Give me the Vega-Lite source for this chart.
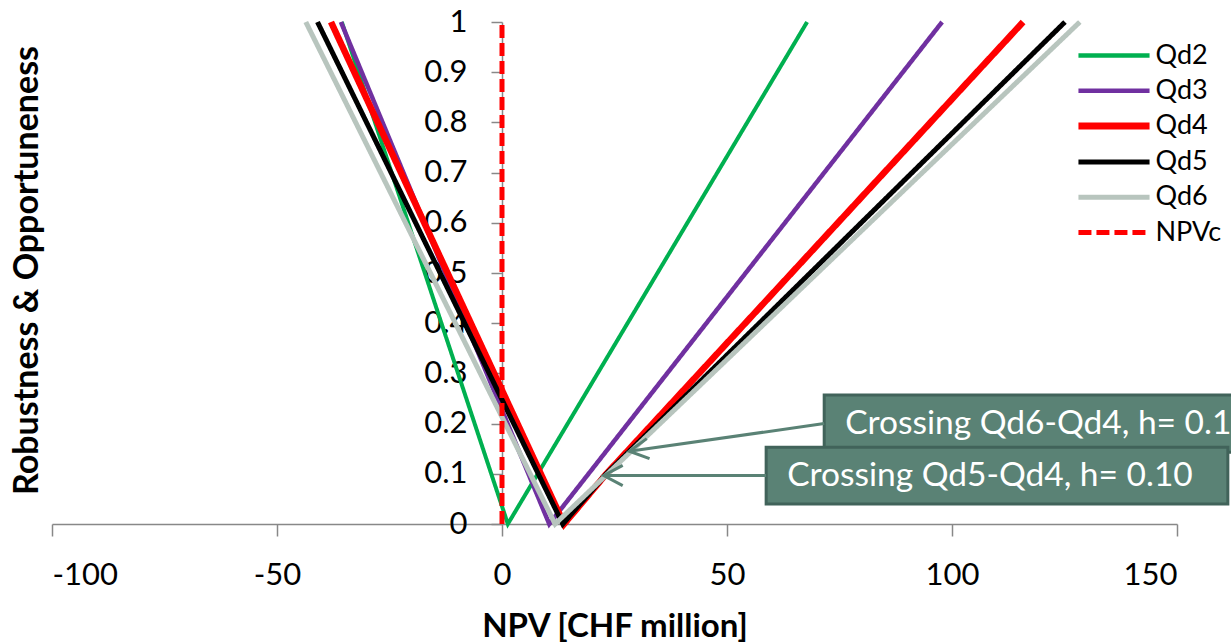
{
  "$schema": "https://vega.github.io/schema/vega-lite/v6.json",
  "width": 1125,
  "height": 502,
  "autosize": "none",
  "padding": {"left": 52, "top": 22, "right": 54, "bottom": 119},
  "background": "white",
  "config": {
    "view": {"stroke": null},
    "font": "Lato",
    "axis": {"grid": false, "zindex": 0, "domainColor": "#888888", "tickColor": "#888888", "domainWidth": 1.5, "tickWidth": 1.5, "labelColor": "#000000", "titleColor": "#000000"}
  },
  "layer": [
    {
      "data": {
        "values": [
          {"series": "Qd2", "npv": -35.6, "h": 1},
          {"series": "Qd2", "npv": 1.3, "h": 0},
          {"series": "Qd2", "npv": 67.8, "h": 1},
          {"series": "Qd3", "npv": -35.8, "h": 1},
          {"series": "Qd3", "npv": 10.5, "h": 0},
          {"series": "Qd3", "npv": 97.8, "h": 1},
          {"series": "Qd4", "npv": -38.0, "h": 1},
          {"series": "Qd4", "npv": 13.8, "h": 0},
          {"series": "Qd4", "npv": 23.2, "h": 0.1},
          {"series": "Qd4", "npv": 115.8, "h": 1},
          {"series": "Qd5", "npv": -41.0, "h": 1},
          {"series": "Qd5", "npv": 13.5, "h": 0},
          {"series": "Qd5", "npv": 23.2, "h": 0.1},
          {"series": "Qd5", "npv": 125.1, "h": 1},
          {"series": "Qd6", "npv": -43.6, "h": 1},
          {"series": "Qd6", "npv": 11.8, "h": 0},
          {"series": "Qd6", "npv": 128.4, "h": 1},
          {"series": "NPVc", "npv": 0, "h": 0},
          {"series": "NPVc", "npv": 0, "h": 1}
        ]
      },
      "mark": {"type": "line", "clip": false, "strokeCap": "butt"},
      "encoding": {
        "x": {
          "field": "npv", "type": "quantitative",
          "scale": {"domain": [-100, 150], "nice": false, "zero": false},
          "axis": {
            "values": [-100, -50, 0, 50, 100, 150],
            "labelExpr": "'' + datum.value",
            "tickSize": 12, "labelPadding": 24, "labelFontSize": 31,
            "title": "NPV [CHF million]", "titleFontSize": 33, "titleFontWeight": "bold",
            "titleY": 112, "titleBaseline": "alphabetic"
          }
        },
        "y": {
          "field": "h", "type": "quantitative",
          "scale": {"domain": [0, 1], "nice": false},
          "axis": {
            "values": [0, 0.1, 0.2, 0.3, 0.4, 0.5, 0.6, 0.7, 0.8, 0.9, 1],
            "format": "~g",
            "offset": -450,
            "tickSize": 11, "labelPadding": 24, "labelFontSize": 31,
            "title": "Robustness & Opportuneness", "titleFontSize": 34, "titleFontWeight": "bold",
            "titleAngle": -90, "titleX": -475, "titleY": 248, "titleBaseline": "middle", "titleAlign": "center"
          }
        },
        "color": {
          "field": "series", "type": "nominal",
          "scale": {
            "domain": ["Qd2", "Qd3", "Qd4", "Qd5", "Qd6", "NPVc"],
            "range": ["#00b050", "#7030a0", "#ff0000", "#000000", "#b8c5be", "#ff0000"]
          },
          "legend": {
            "title": null, "orient": "none", "legendX": 1048.5, "legendY": 20,
            "padding": 0, "rowPadding": 7.2,
            "symbolType": "M-2.37,0L2.37,0", "symbolSize": 900, "symbolStrokeWidth": 5,
            "labelOffset": 28, "labelFontSize": 27, "labelColor": "#000000", "labelFont": "Lato",
            "encode": {"symbols": {"update": {"strokeWidth": {"signal": "datum.value === 'Qd4' ? 7 : (datum.value === 'Qd2' || datum.value === 'Qd3') ? 4.5 : 5"}}}}
          }
        },
        "strokeDash": {
          "field": "series", "type": "nominal",
          "scale": {
            "domain": ["Qd2", "Qd3", "Qd4", "Qd5", "Qd6", "NPVc"],
            "range": [[1, 0], [1, 0], [1, 0], [1, 0], [1, 0], [13, 5]]
          },
          "legend": {
            "title": null, "orient": "none", "legendX": 1048.5, "legendY": 20,
            "padding": 0, "rowPadding": 7.2,
            "symbolType": "M-2.37,0L2.37,0", "symbolSize": 900, "symbolStrokeWidth": 5,
            "labelOffset": 28, "labelFontSize": 27, "labelColor": "#000000", "labelFont": "Lato"
          }
        },
        "strokeWidth": {
          "condition": [
            {"test": "datum.series === 'Qd4'", "value": 6.5},
            {"test": "datum.series === 'Qd2'", "value": 4},
            {"test": "datum.series === 'Qd3'", "value": 4.5},
            {"test": "datum.series === 'NPVc'", "value": 5}
          ],
          "value": 5
        }
      }
    },
    {
      "data": {
        "values": [
          {"label": "Crossing Qd6-Qd4, h= 0.1", "left": 71.6, "right": 176, "bottom": 0.143, "top": 0.257, "mid": 0.2},
          {"label": "Crossing Qd5-Qd4, h= 0.10", "left": 58.7, "right": 161.3, "bottom": 0.04, "top": 0.153, "mid": 0.0966}
        ]
      },
      "layer": [
        {
          "mark": {"type": "rect", "clip": false, "fill": "#5a8275", "stroke": "#41635a", "strokeWidth": 3},
          "encoding": {
            "x": {"field": "left", "type": "quantitative"},
            "x2": {"field": "right"},
            "y": {"field": "bottom", "type": "quantitative"},
            "y2": {"field": "top"}
          }
        },
        {
          "mark": {"type": "text", "clip": false, "align": "left", "baseline": "middle", "dx": 21, "color": "#ffffff", "fontSize": 33.5, "font": "Lato"},
          "encoding": {
            "x": {"field": "left", "type": "quantitative"},
            "y": {"field": "mid", "type": "quantitative"},
            "text": {"field": "label"}
          }
        }
      ]
    },
    {
      "data": {
        "values": [
          {"id": "a", "x0": 71.6, "h0": 0.2, "x1": 28.3, "h1": 0.145},
          {"id": "b", "x0": 58.7, "h0": 0.0966, "x1": 22.6, "h1": 0.0966}
        ]
      },
      "layer": [
        {
          "mark": {"type": "rule", "color": "#5a8275", "strokeWidth": 3},
          "encoding": {
            "x": {"field": "x0", "type": "quantitative"},
            "y": {"field": "h0", "type": "quantitative"},
            "x2": {"field": "x1"},
            "y2": {"field": "h1"}
          }
        },
        {
          "mark": {"type": "point", "shape": "M1,-0.53L0,0L1,0.53", "filled": false, "size": 1444, "strokeWidth": 3, "color": "#5a8275", "opacity": 1},
          "encoding": {
            "x": {"field": "x1", "type": "quantitative"},
            "y": {"field": "h1", "type": "quantitative"},
            "angle": {"condition": {"test": "datum.id === 'a'", "value": -8}, "value": 0}
          }
        }
      ]
    }
  ]
}
